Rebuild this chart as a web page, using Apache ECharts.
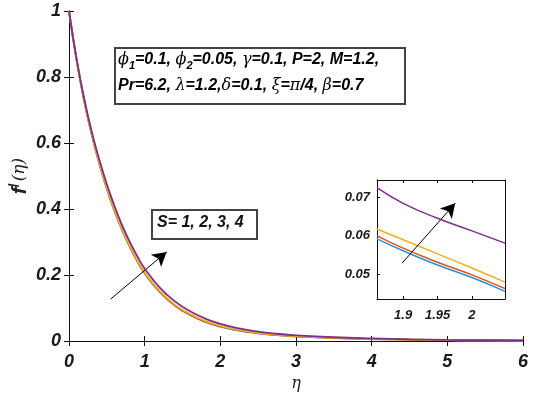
<!DOCTYPE html>
<html><head><meta charset="utf-8">
<script src="https://cdn.jsdelivr.net/npm/echarts@6/dist/echarts.min.js"></script>
<style>html,body{margin:0;padding:0;background:#fff}#c{width:537px;height:400px}</style>
</head><body><div id="c"></div>
<script>
// ---- data ----
const eta = [0,0.1,0.2,0.3,0.4,0.5,0.6,0.7,0.8,0.9,1.0,1.2,1.4,1.6,1.8,2.0,2.25,2.5,2.75,3.0,3.5,4.0,4.5,5.0,5.5,6.0];
const fS1 = [1,0.852,0.728,0.626,0.538,0.461,0.395,0.337,0.287,0.243,0.205,0.148,0.107,0.079,0.058,0.0435,0.0315,0.0235,0.0177,0.014,0.009,0.006,0.0039,0.0026,0.0017,0.001];
const fS2 = [1,0.852,0.729,0.627,0.539,0.462,0.396,0.338,0.288,0.244,0.206,0.149,0.108,0.080,0.059,0.044,0.032,0.024,0.018,0.0143,0.0092,0.0061,0.004,0.0027,0.0018,0.0011];
const fS3 = [1,0.853,0.730,0.628,0.540,0.464,0.398,0.340,0.290,0.246,0.208,0.151,0.110,0.082,0.061,0.046,0.0335,0.025,0.019,0.015,0.0097,0.0065,0.0043,0.0029,0.0019,0.0012];
const fS4 = [1,0.855,0.735,0.635,0.550,0.475,0.410,0.352,0.302,0.258,0.220,0.162,0.120,0.090,0.068,0.052,0.038,0.0285,0.022,0.0173,0.0113,0.0076,0.0051,0.0034,0.0023,0.0015];
const insetEta = [1.862,1.9,1.95,2.0,2.048];
const inS1 = [0.0592,0.0561,0.0524,0.0491,0.0455];
const inS2 = [0.0600,0.0568,0.0531,0.0498,0.0462];
const inS3 = [0.0618,0.0590,0.0553,0.0516,0.0479];
const inS4 = [0.0726,0.0685,0.0646,0.0613,0.0581];
const xTicks = [0,1,2,3,4,5,6];
const yTicks = [0,0.2,0.4,0.6,0.8,1];
const insetXTicks = [1.9,1.95,2];
const insetYTicks = [0.05,0.06,0.07];
const mainArrow = [[0.55,0.127],[1.29,0.27]];
const insetArrow = [[1.8986,0.0529],[1.9756,0.0685]];
const seriesNames = ['S=1','S=2','S=3','S=4'];
const colors = ['#2f8fd0','#d95319','#edb120','#7e2f8e'];

const pair = (xs, ys) => xs.map((x,i)=>[x,ys[i]]);
const FONT = 'Liberation Sans, Arial, sans-serif';
const SERIF = 'DejaVu Serif, Liberation Serif, serif';
const lab = (size)=>({fontFamily:FONT,fontWeight:'bold',fontStyle:'italic',fontSize:size,color:'#1a1a1a'});
const line = {lineStyle:{color:'#111',width:1}};

const chart = echarts.init(document.getElementById('c'));
const mainData = [fS1,fS2,fS3,fS4];
const insetData = [inS1,inS2,inS3,inS4];
const series = [];
mainData.forEach((d,i)=>series.push({name:seriesNames[i],type:'line',xAxisIndex:0,yAxisIndex:0,smooth:true,showSymbol:false,
  data:pair(eta,d),lineStyle:{color:colors[i],width:1.8},z:2+i}));
insetData.forEach((d,i)=>series.push({name:seriesNames[i]+'i',type:'line',xAxisIndex:2,yAxisIndex:2,smooth:true,showSymbol:false,
  data:pair(insetEta,d),lineStyle:{color:colors[i],width:1.5},z:2+i}));
series[3].markLine = {silent:true,symbol:['none','arrow'],symbolSize:[12,14],label:{show:false},
  lineStyle:{color:'#000',width:1,type:'solid'},
  data:[[{coord:mainArrow[0]},{coord:mainArrow[1]}]]};
series[7].markLine = {silent:true,symbol:['none','arrow'],symbolSize:[12,14],label:{show:false},
  lineStyle:{color:'#000',width:1,type:'solid'},
  data:[[{coord:insetArrow[0]},{coord:insetArrow[1]}]]};

const tb = {fontFamily:FONT,fontWeight:'bold',fontStyle:'italic',fontSize:16,color:'#111',lineHeight:22,verticalAlign:'middle'};
const gk = {fontFamily:SERIF,fontStyle:'italic',fontSize:16,color:'#111',lineHeight:22,verticalAlign:'middle'};
const sb = {fontFamily:FONT,fontWeight:'bold',fontStyle:'italic',fontSize:11,color:'#111',lineHeight:10,verticalAlign:'bottom'};
const rich = {t:tb,g:gk,s:sb};

chart.setOption({
  animation:false,
  backgroundColor:'#fff',
  grid:[{left:69,right:14,top:11,bottom:59,containLabel:false,outerBoundsMode:'none'},
        {left:377,top:180,width:128,height:119,containLabel:false,outerBoundsMode:'none'}],
  xAxis:[
    {gridIndex:0,type:'value',min:0,max:6,interval:1,axisLine:line,
     axisTick:{inside:true,length:5,lineStyle:{color:'#111'}},splitLine:{show:false},
     axisLabel:Object.assign(lab(18),{margin:12,customValues:xTicks}),
     name:'η',nameLocation:'middle',nameGap:35,nameTextStyle:{fontFamily:SERIF,fontStyle:'italic',fontSize:16,color:'#222'}},
    {gridIndex:0,type:'value',min:0,max:6,interval:1,position:'top',axisLine:line,
     axisTick:{inside:true,length:5,lineStyle:{color:'#111'}},axisLabel:{show:false},splitLine:{show:false}},
    {gridIndex:1,type:'value',min:1.862,max:2.048,axisLine:line,
     axisTick:{inside:true,length:3,customValues:insetXTicks,lineStyle:{color:'#111'}},splitLine:{show:false},
     axisLabel:Object.assign(lab(13),{margin:10,customValues:insetXTicks,formatter:v=>String(+v.toFixed(2))})},
    {gridIndex:1,type:'value',min:1.862,max:2.048,position:'top',axisLine:line,
     axisTick:{inside:true,length:3,customValues:insetXTicks,lineStyle:{color:'#111'}},axisLabel:{show:false},splitLine:{show:false}}
  ],
  yAxis:[
    {gridIndex:0,type:'value',min:0,max:1,interval:0.2,axisLine:line,
     axisTick:{inside:true,length:5,lineStyle:{color:'#111'}},splitLine:{show:false},
     axisLabel:Object.assign(lab(18),{margin:8,customValues:yTicks,formatter:v=>String(+v.toFixed(1))}),
     name:'{f|f}{p|/}{e|(η)}',nameLocation:'middle',nameGap:37,nameMoveOverlap:false,nameRotate:90,
     nameTextStyle:{rich:{f:{fontFamily:FONT,fontWeight:'bold',fontStyle:'italic',fontSize:21,color:'#222',lineHeight:24,verticalAlign:'middle'},
       p:{fontFamily:FONT,fontWeight:'bold',fontSize:14,color:'#222',lineHeight:14,verticalAlign:'top',padding:[0,2,0,0]},
       e:{fontFamily:SERIF,fontStyle:'italic',fontSize:17,color:'#222',lineHeight:24,verticalAlign:'middle'}}}},
    {gridIndex:0,type:'value',min:0,max:1,interval:0.2,position:'right',axisLine:line,
     axisTick:{inside:true,length:5,lineStyle:{color:'#111'}},axisLabel:{show:false},splitLine:{show:false}},
    {gridIndex:1,type:'value',min:0.0435,max:0.0746,axisLine:line,
     axisTick:{inside:true,length:3,customValues:insetYTicks,lineStyle:{color:'#111'}},splitLine:{show:false},
     axisLabel:Object.assign(lab(13),{margin:7,customValues:insetYTicks,formatter:v=>v.toFixed(2)})},
    {gridIndex:1,type:'value',min:0.0435,max:0.0746,position:'right',axisLine:line,
     axisTick:{show:false},axisLabel:{show:false},splitLine:{show:false}}
  ],
  series:series,
  graphic:[
    {type:'rect',left:114,top:47,shape:{width:290,height:56},style:{fill:'#fff',stroke:'#444',lineWidth:2},z:50},
    {type:'text',left:118,top:52,z:51,style:{rich:rich,
      text:'{g|ϕ}{s|1}{t|=0.1, }{g|ϕ}{s|2}{t|=0.05, }{g|γ}{t|=0.1, P=2, M=1.2,}'}},
    {type:'text',left:118,top:78,z:51,style:{rich:rich,
      text:'{t|Pr=6.2, }{g|λ}{t|=1.2,}{g|δ}{t|=0.1, }{g|ξ}{t|=}{g|π}{t|/4, }{g|β}{t|=0.7}'}},
    {type:'rect',left:151,top:209,shape:{width:105,height:29},style:{fill:'#fff',stroke:'#444',lineWidth:2},z:50},
    {type:'text',left:157,top:215,z:51,style:{text:'S= 1, 2, 3, 4',font:'italic bold 16px '+FONT,fill:'#111'}}
  ]
});
</script></body></html>
